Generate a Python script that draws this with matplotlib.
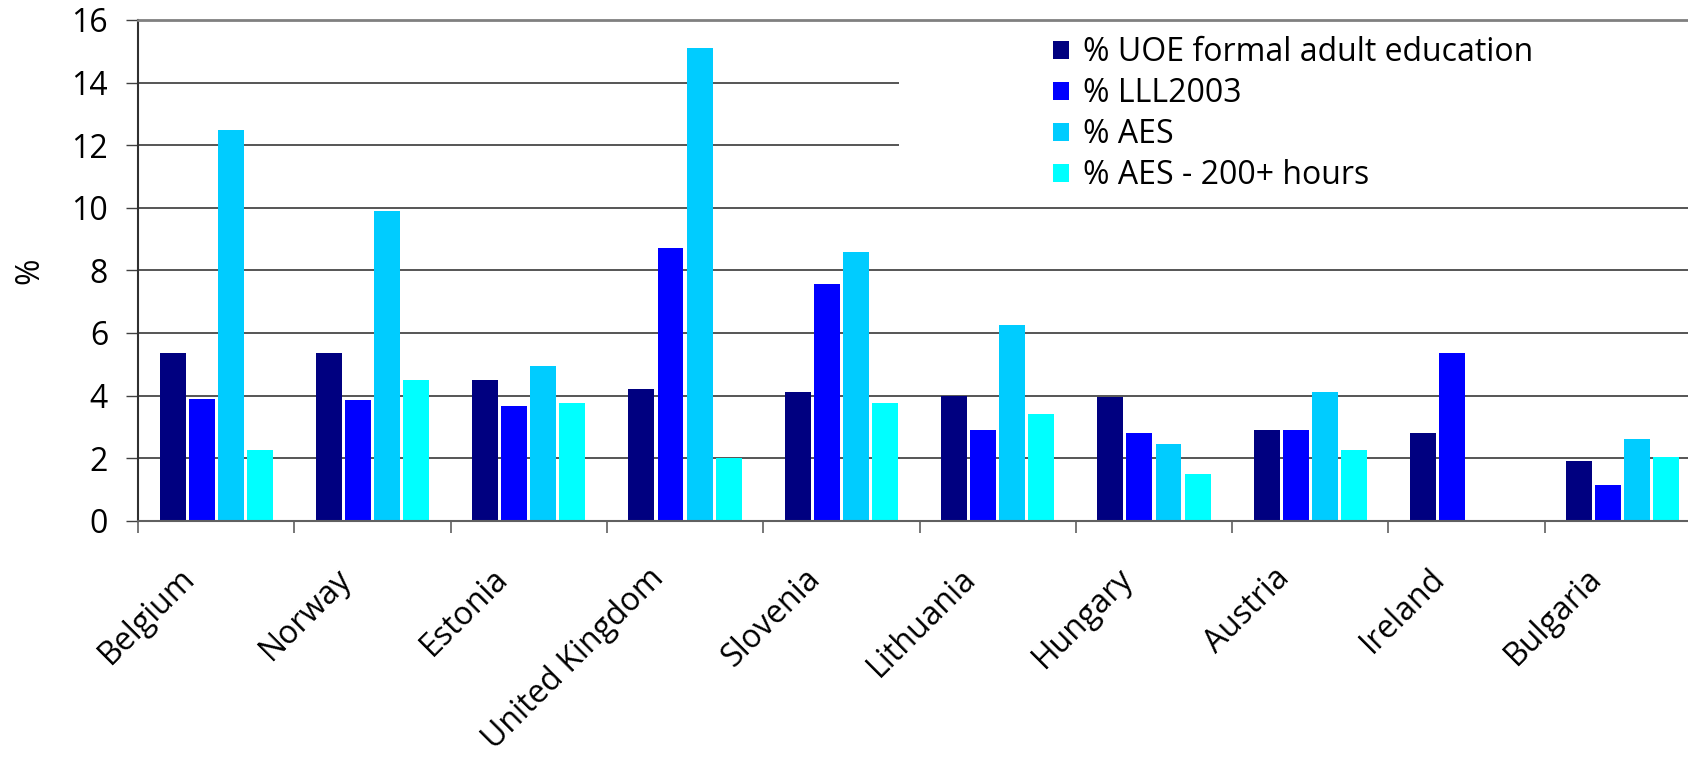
import numpy as np
import matplotlib.pyplot as plt
import matplotlib.transforms as mtransforms
from matplotlib.patches import Patch, Rectangle

plt.rcParams['font.family'] = ['Open Sans', 'DejaVu Sans']

# share of adults in education, by source
countries = ["Belgium", "Norway", "Estonia", "United Kingdom", "Slovenia",
             "Lithuania", "Hungary", "Austria", "Ireland", "Bulgaria"]
uoe = [5.35, 5.35, 4.5, 4.2, 4.1, 4.0, 3.95, 2.9, 2.8, 1.9]
lll2003 = [3.9, 3.85, 3.65, 8.7, 7.55, 2.9, 2.8, 2.9, 5.35, 1.15]
aes = [12.5, 9.9, 4.95, 15.1, 8.6, 6.25, 2.45, 4.1, np.nan, 2.6]
aes200 = [2.25, 4.5, 3.75, 2.0, 3.75, 3.4, 1.5, 2.25, np.nan, 2.05]

series = [uoe, lll2003, aes, aes200]
labels = ["% UOE formal adult education", "% LLL2003", "% AES", "% AES - 200+ hours"]
colors = ["#000080", "#0000ff", "#00ccff", "#00ffff"]

W, H = 1688, 758
fs = 23
fig = plt.figure(figsize=(W / 100, H / 100), dpi=100)
ax = fig.add_axes([138 / W, 1 - 520.7 / H, (1701 - 138) / W, (520.7 - 20) / H])

x = np.arange(len(countries))
step = 0.186
width = 0.166
for i, (vals, c) in enumerate(zip(series, colors)):
    ax.bar(x + (i - 1.5) * step, vals, width, color=c, edgecolor='none', zorder=2)

ax.set_xlim(-0.5, len(countries) - 0.5)
ax.set_ylim(0, 16)
ax.set_yticks(range(0, 17, 2))
ax.yaxis.grid(True, color='#383838', lw=1.2)
ax.set_axisbelow(True)

# white box behind the legend hides the gridlines there
ax.add_patch(Rectangle((4.37, 10.2), 6, 5.7, facecolor='white', edgecolor='none', zorder=1))

ax.spines['right'].set_visible(False)
ax.spines['left'].set_color('#303030')
ax.spines['left'].set_linewidth(1.5)
ax.spines['bottom'].set_color('#606060')
ax.spines['bottom'].set_linewidth(1.5)
ax.spines['top'].set_color('#808080')
ax.spines['top'].set_linewidth(2)

ax.tick_params(axis='y', length=8.6, width=1, color='#404040', labelsize=fs, pad=13)
ax.set_xticks(np.arange(len(countries) + 1) - 0.5)
ax.set_xticklabels([])
ax.tick_params(axis='x', which='major', length=8.6, width=1.2, color='#606060')
ax.set_xticks(x, minor=True)
ax.set_xticklabels(countries, minor=True, rotation=45, ha='right', va='center',
                   rotation_mode='anchor', fontsize=fs)
ax.tick_params(axis='x', which='minor', length=0, pad=38)
shift = mtransforms.ScaledTranslation(-0.26, 0, fig.dpi_scale_trans)
for lab in ax.get_xticklabels(minor=True):
    lab.set_transform(lab.get_transform() + shift)

ax.set_ylabel('%', fontsize=fs, va='center')
ax.yaxis.set_label_coords((30 - 138) / 1563, 0.5)

handles = [Patch(facecolor=c) for c in colors]
ax.legend(handles, labels, loc='upper left', bbox_to_anchor=(1053 / W, 1 - 36 / H),
          bbox_transform=fig.transFigure, frameon=False, fontsize=fs,
          handlelength=0.5, handleheight=0.5, handletextpad=0.44,
          labelspacing=0.25, borderpad=0, borderaxespad=0)

fig.savefig('out.png', dpi=100)
